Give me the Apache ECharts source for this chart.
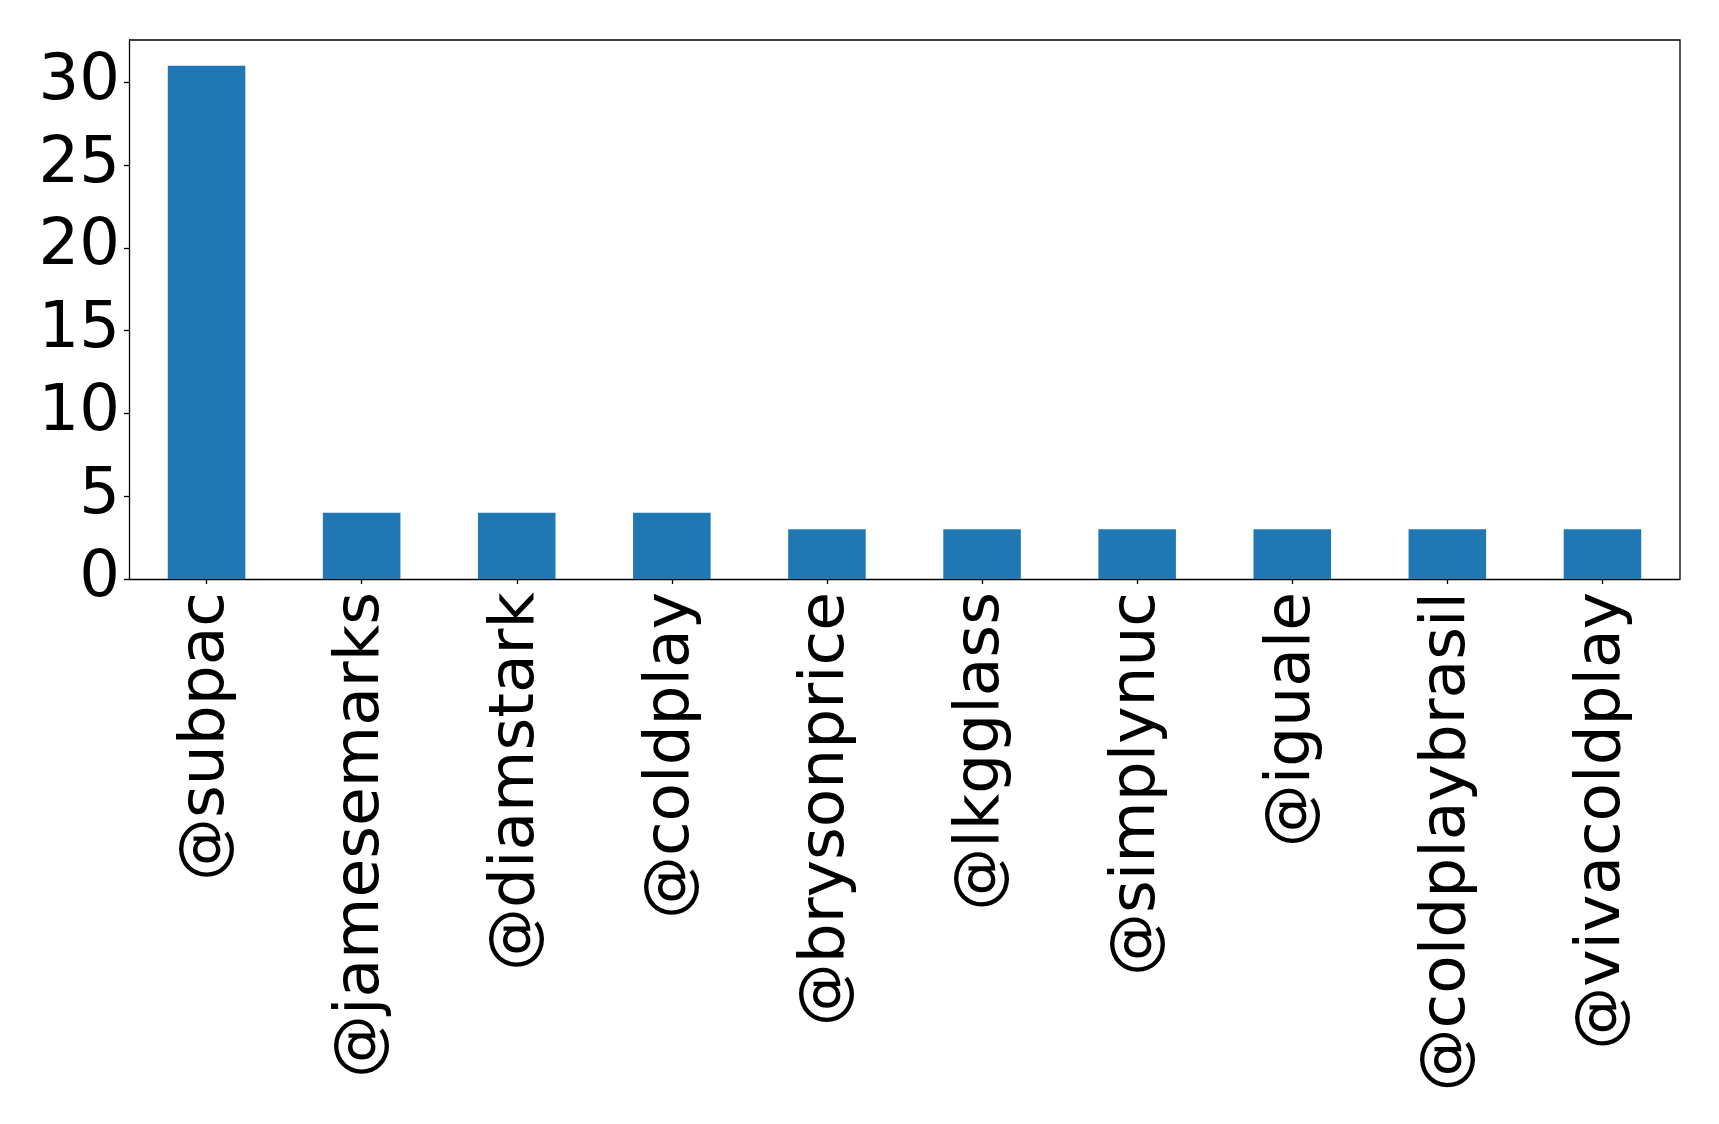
<!DOCTYPE html>
<html>
<head>
<meta charset="utf-8">
<script src="https://cdn.jsdelivr.net/npm/echarts@6/dist/echarts.min.js"></script>
<style>
  html, body { margin: 0; padding: 0; background: #fff; }
  #chart { width: 1719px; height: 1124px; }
</style>
</head>
<body>
<div id="chart"></div>
<script>
const categories = ['@subpac', '@jamesemarks', '@diamstark', '@coldplay', '@brysonprice',
  '@lkgglass', '@simplynuc', '@iguale', '@coldplaybrasil', '@vivacoldplay']
const counts = [31, 4, 4, 4, 3, 3, 3, 3, 3, 3]
const yTicks = [0, 5, 10, 15, 20, 25, 30]

const chart = echarts.init(document.getElementById('chart'))

const font = 'DejaVu Sans'
const option = {
  animation: false,
  grid: {
    left: 129,
    right: 39,
    top: 40,
    bottom: 545,
    containLabel: false
  },
  xAxis: {
    type: 'category',
    data: categories,
    boundaryGap: true,
    axisLine: { lineStyle: { color: '#000', width: 1.3 } },
    axisTick: { show: true, alignWithLabel: true, length: 5, lineStyle: { color: '#000', width: 1.3 } },
    axisLabel: {
      rotate: 90,
      interval: 0,
      margin: 13,
      color: '#000',
      fontFamily: font,
      fontSize: 63
    },
    splitLine: { show: false }
  },
  yAxis: {
    type: 'value',
    min: 0,
    max: 32.55,
    interval: 5,
    axisLine: { show: true, lineStyle: { color: '#000', width: 1.3 } },
    axisTick: { show: true, length: 5, customValues: yTicks, lineStyle: { color: '#000', width: 1.3 } },
    axisLabel: {
      margin: 9,
      color: '#000',
      fontFamily: font,
      fontSize: 64,
      customValues: yTicks
    },
    splitLine: { show: false }
  },
  series: [
    {
      type: 'bar',
      data: counts,
      barWidth: '50%',
      itemStyle: { color: '#1f77b4' }
    }
  ],
  graphic: [
    {
      // top and right spines of the frame
      type: 'polyline',
      shape: { points: [[129, 40], [1680, 40], [1680, 579]] },
      style: { stroke: '#000', lineWidth: 1.3, fill: null },
      silent: true
    }
  ]
}

chart.setOption(option)
</script>
</body>
</html>
